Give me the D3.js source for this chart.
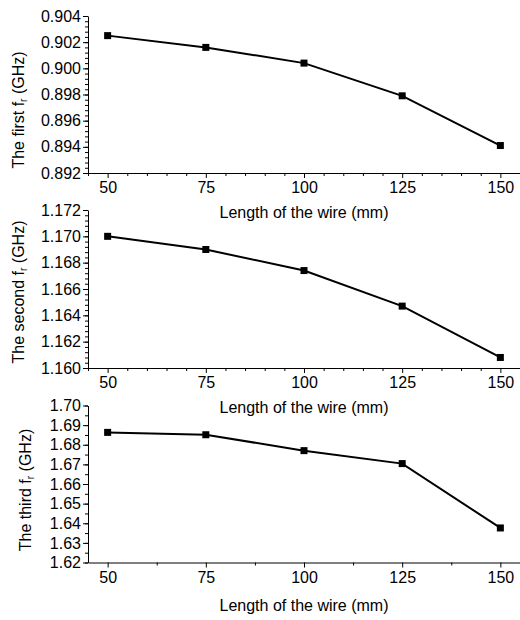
<!DOCTYPE html>
<html>
<head>
<meta charset="utf-8">
<script src="https://cdn.jsdelivr.net/npm/d3@7"></script>
<style>
body { margin: 0; background: #fff; }
text { font-family: Arial, "Liberation Sans", sans-serif; fill: #000; }
</style>
</head>
<body>
<svg width="520" height="620"></svg>
<script>
// Data
var lengths  = [50, 75, 100, 125, 150];                    // mm
var firstFr  = [0.9025, 0.9016, 0.9004, 0.8979, 0.8941];   // GHz
var secondFr = [1.1700, 1.1690, 1.1674, 1.1647, 1.1608];
var thirdFr  = [1.6863, 1.6851, 1.6770, 1.6704, 1.6376];

var xTicks      = [50, 75, 100, 125, 150];
var firstTicks  = [0.892, 0.894, 0.896, 0.898, 0.900, 0.902, 0.904];
var secondTicks = [1.160, 1.162, 1.164, 1.166, 1.168, 1.170, 1.172];
var thirdTicks  = [1.62, 1.63, 1.64, 1.65, 1.66, 1.67, 1.68, 1.69, 1.70];

var xTitle = "Length of the wire (mm)";

// Panel layout
var svg = d3.select('svg');
var left = 88, right = 520;

var panels = [
  {ord: "first",  values: firstFr,  ticks: firstTicks,  fmt: ".3f", top: 16,    bottom: 173,   ySub: 5, xSub: 5,    titleX: 20, titleY: 110, xLabelDy: 41},
  {ord: "second", values: secondFr, ticks: secondTicks, fmt: ".3f", top: 210,   bottom: 368,   ySub: 5, xSub: 5,    titleX: 20, titleY: 292, xLabelDy: 41},
  {ord: "third",  values: thirdFr,  ticks: thirdTicks,  fmt: ".2f", top: 405.5, bottom: 562.5, ySub: 2, xSub: 12.5, titleX: 27, titleY: 490, xLabelDy: 44}
];

var x = d3.scaleLinear().domain([45, 155]).range([left, right]);

panels.forEach(function(p) {
  var lo = p.ticks[0], hi = p.ticks[p.ticks.length - 1];
  var y = d3.scaleLinear().domain([lo, hi]).range([p.bottom, p.top]);
  var g = svg.append('g');

  // minor ticks
  var step = (p.ticks[1] - p.ticks[0]) / p.ySub;
  var yMinor = d3.range(0, Math.round((hi - lo) / step) + 1).map(i => lo + i * step);
  var xMinor = d3.range(45, 156, p.xSub).filter(v => xTicks.indexOf(v) < 0);
  if (p.xSub === 12.5) xMinor = [62.5, 87.5, 112.5, 137.5];

  g.append('g')
      .attr('transform', 'translate(' + left + ',0)')
      .call(d3.axisLeft(y).tickValues(yMinor).tickSize(3).tickFormat(''))
      .call(a => a.select('.domain').remove());
  g.append('g')
      .attr('transform', 'translate(0,' + p.bottom + ')')
      .call(d3.axisBottom(x).tickValues(xMinor).tickSize(3).tickFormat(''))
      .call(a => a.select('.domain').remove());

  // major axes
  var ya = g.append('g')
      .attr('transform', 'translate(' + left + ',0)')
      .call(d3.axisLeft(y).tickValues(p.ticks).tickSize(5).tickSizeOuter(0)
            .tickPadding(2).tickFormat(d3.format(p.fmt)));
  var xa = g.append('g')
      .attr('transform', 'translate(0,' + p.bottom + ')')
      .call(d3.axisBottom(x).tickValues(xTicks).tickSize(5).tickSizeOuter(0)
            .tickPadding(4));
  [ya, xa].forEach(a => {
    a.selectAll('text').style('font-size', '16px').attr('fill', '#000');
    a.selectAll('line, path').attr('stroke', '#000');
  });

  // x title
  g.append('text')
      .attr('x', (left + right) / 2)
      .attr('y', p.bottom + p.xLabelDy)
      .attr('text-anchor', 'middle')
      .attr('dominant-baseline', 'middle')
      .style('font-size', '16px')
      .text(xTitle);

  // y title with subscript r
  var t = g.append('text')
      .attr('transform', 'translate(' + p.titleX + ',' + p.titleY + ') rotate(-90)')
      .attr('text-anchor', 'middle')
      .attr('dominant-baseline', 'middle')
      .style('font-size', '16px');
  t.append('tspan').text('The ' + p.ord + ' f');
  t.append('tspan').attr('dy', 4).style('font-size', '10px').text('r');
  t.append('tspan').attr('dy', -4).text(' (GHz)');

  // line and markers
  var pts = lengths.map((d, i) => [d, p.values[i]]);
  g.append('path')
      .datum(pts)
      .attr('fill', 'none')
      .attr('stroke', '#000')
      .attr('stroke-width', 2)
      .attr('d', d3.line().x(d => x(d[0])).y(d => y(d[1])));
  g.selectAll('rect.pt')
      .data(pts)
      .enter()
      .append('rect')
      .attr('class', 'pt')
      .attr('x', d => x(d[0]) - 3.5)
      .attr('y', d => y(d[1]) - 3.5)
      .attr('width', 7)
      .attr('height', 7)
      .attr('fill', '#000');
});
</script>
</body>
</html>
